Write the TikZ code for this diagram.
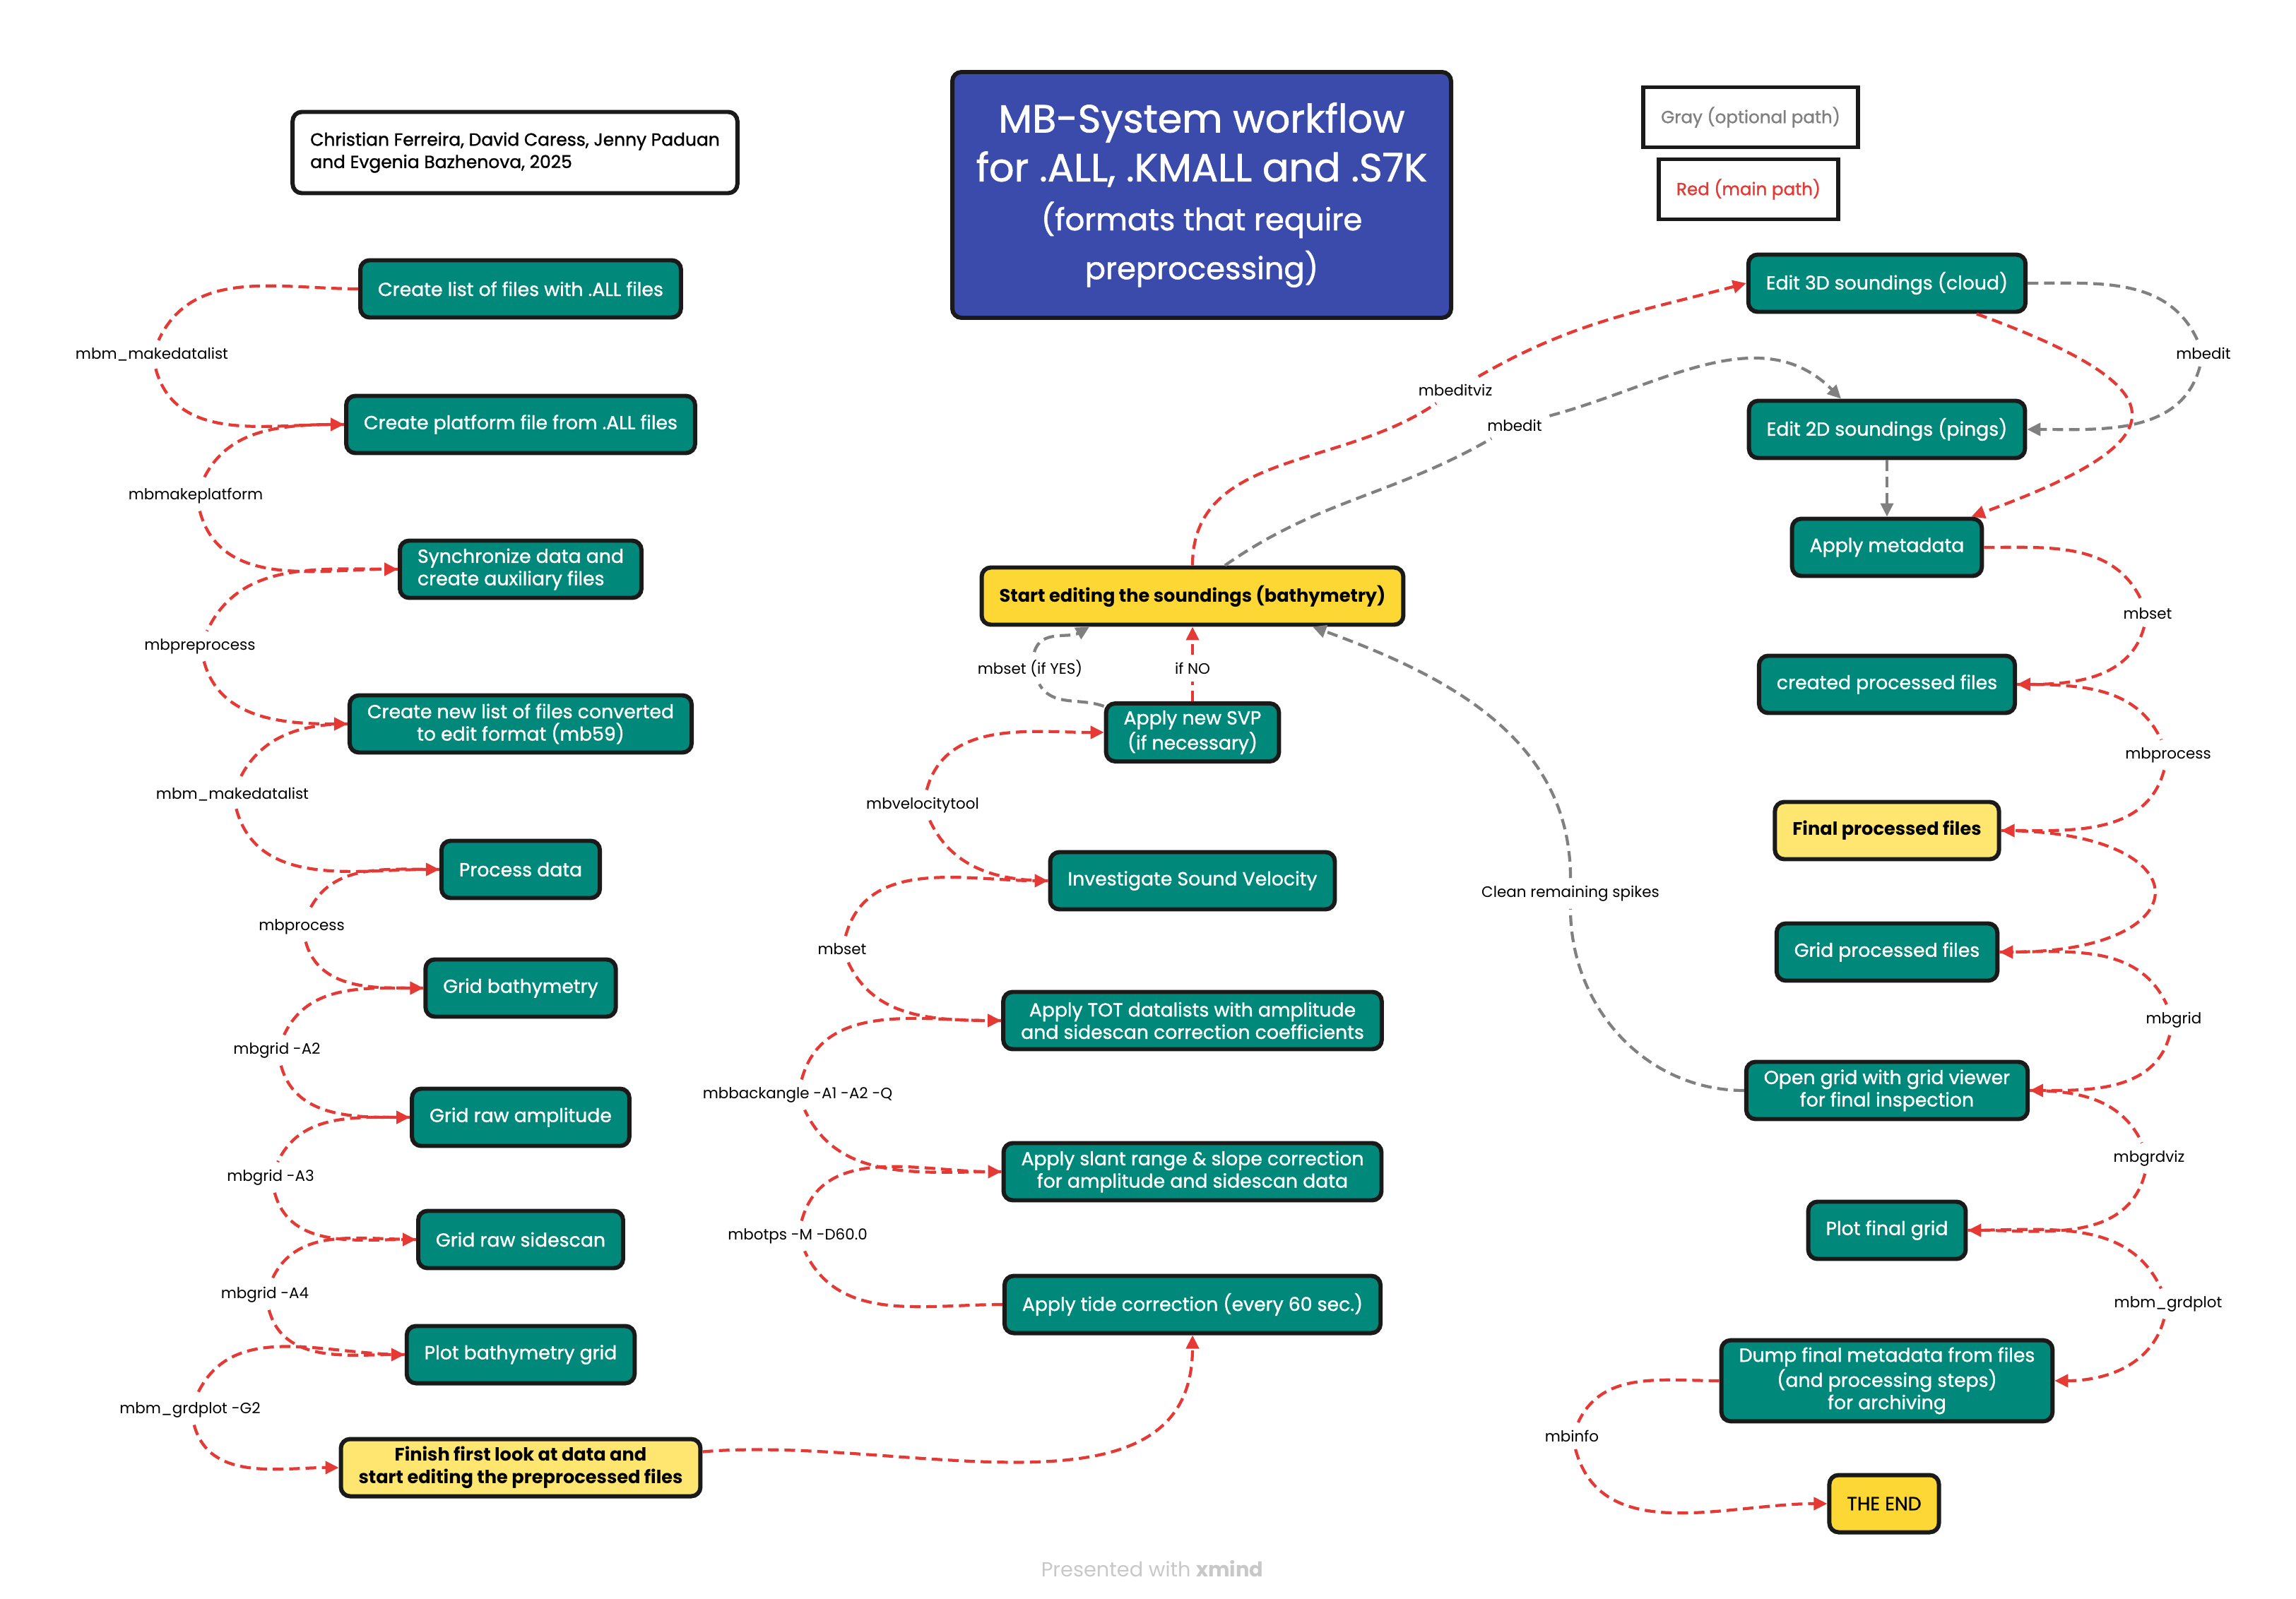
\documentclass[tikz,border=0pt]{standalone}
\usepackage{fontspec}
\setmainfont{Poppins}
\newfontfamily\medfont{Poppins}[FakeBold=1.2]
\usetikzlibrary{arrows.meta}

\definecolor{boxteal}{RGB}{0,137,123}
\definecolor{boxline}{RGB}{26,26,26}
\definecolor{titleblue}{RGB}{59,75,171}
\definecolor{hiyellow}{RGB}{253,216,53}
\definecolor{softyellow}{RGB}{255,230,112}
\definecolor{mainred}{RGB}{229,57,53}
\definecolor{optgray}{RGB}{128,128,128}
\definecolor{footgray}{RGB}{200,200,200}

\tikzset{
  box/.style={draw=boxline, line width=1.7pt, rounded corners=1.3mm, fill=boxteal,
    text=white, align=center, inner xsep=2.5mm, inner ysep=1mm, minimum height=8.1mm,
    font=\medfont\fontsize{7.6}{9}\selectfont},
  hibox/.style={box, fill=hiyellow, text=black, font=\fontsize{7.3}{9}\selectfont\bfseries},
  softbox/.style={hibox, fill=softyellow},
  legend/.style={draw=boxline, line width=1.5pt, fill=white, inner xsep=2.5mm,
    minimum height=8.5mm, font=\medfont\fontsize{7}{9}\selectfont},
  cmd/.style={fill=white, inner sep=1mm, font=\fontsize{6.1}{7.5}\selectfont},
  mainpath/.style={draw=mainred, line width=1.2pt, dash pattern=on 4.3pt off 2.3pt,
    -{Triangle[length=1.9mm,width=1.8mm]}},
  optpath/.style={mainpath, draw=optgray},
}

\begin{document}
\begin{tikzpicture}
  \useasboundingbox (0,0) rectangle (32.5,-22.64);

  % header
  \node[box, fill=white, text=black, align=left, minimum height=11.5mm,
    font=\medfont\fontsize{7.1}{9}\selectfont] (authors) at (7.29,-2.16)
    {Christian Ferreira, David Caress, Jenny Paduan\\and Evgenia Bazhenova, 2025};
  \node[box, fill=titleblue, minimum width=7.06cm, minimum height=3.48cm,
    font=\medfont\fontsize{15.8}{19.7}\selectfont] (title) at (17.01,-2.76)
    {MB-System workflow\\
     for .ALL, .KMALL and .S7K\\
     {\fontsize{12.3}{19.7}\selectfont (formats that require}\\
     {\fontsize{12.3}{19.7}\selectfont preprocessing)}};
  \node[legend, text=optgray] (leggray) at (24.78,-1.66) {Gray (optional path)};
  \node[legend, text=mainred] (legred) at (24.75,-2.68) {Red (main path)};

  % left column
  \node[box] (listall) at (7.37,-4.09) {Create list of files with .ALL files};
  \node[box] (platform) at (7.37,-6.01) {Create platform file from .ALL files};
  \node[box, align=left] (sync) at (7.37,-8.06) {Synchronize data and\\create auxiliary files};
  \node[box] (newlist) at (7.37,-10.25) {Create new list of files converted\\to edit format (mb59)};
  \node[box] (process) at (7.37,-12.31) {Process data};
  \node[box] (gridbathy) at (7.37,-13.99) {Grid bathymetry};
  \node[box] (gridamp) at (7.37,-15.82) {Grid raw amplitude};
  \node[box] (gridss) at (7.37,-17.55) {Grid raw sidescan};
  \node[box] (plotbathy) at (7.37,-19.18) {Plot bathymetry grid};
  \node[softbox] (finish) at (7.37,-20.78) {Finish first look at data and\\start editing the preprocessed files};

  \node[cmd] (lmk1) at (2.15,-5.02) {mbm\_makedatalist};
  \node[cmd] (lplat) at (2.77,-7.02) {mbmakeplatform};
  \node[cmd] (lpre) at (2.83,-9.15) {mbpreprocess};
  \node[cmd] (lmk2) at (3.29,-11.25) {mbm\_makedatalist};
  \node[cmd] (lproc) at (4.27,-13.12) {mbprocess};
  \node[cmd] (lgrida) at (3.92,-14.87) {mbgrid -A2};
  \node[cmd] (lgridb) at (3.83,-16.67) {mbgrid -A3};
  \node[cmd] (lgridc) at (3.75,-18.33) {mbgrid -A4};
  \node[cmd] (lplot) at (2.69,-19.96) {mbm\_grdplot -G2};

  % middle column
  \node[hibox] (startedit) at (16.88,-8.44) {Start editing the soundings (bathymetry)};
  \node[box] (svp) at (16.88,-10.37) {Apply new SVP\\(if necessary)};
  \node[box] (investigate) at (16.88,-12.47) {Investigate Sound Velocity};
  \node[box] (tot) at (16.88,-14.45) {Apply TOT datalists with amplitude\\and sidescan correction coefficients};
  \node[box] (slant) at (16.88,-16.59) {Apply slant range \& slope correction\\for amplitude and sidescan data};
  \node[box] (tide) at (16.88,-18.47) {Apply tide correction (every 60 sec.)};

  \node[cmd] (lotps) at (11.29,-17.50) {mbotps -M -D60.0};
  \node[cmd] (lback) at (11.29,-15.50) {mbbackangle -A1 -A2 -Q};
  \node[cmd] (lset) at (11.92,-13.44) {mbset};
  \node[cmd] (lvel) at (13.06,-11.40) {mbvelocitytool};
  \node[cmd] (lno) at (16.88,-9.46) {if NO};
  \node[cmd] (lyes) at (14.58,-9.46) {mbset (if YES)};
  \node[cmd] (lviz) at (20.60,-5.52) {mbeditviz};
  \node[cmd] (ledit) at (21.44,-6.02) {mbedit};
  \node[cmd] (lspikes) at (22.23,-12.65) {Clean remaining spikes};

  % right column
  \node[box] (edit3d) at (26.71,-4.01) {Edit 3D soundings (cloud)};
  \node[box] (edit2d) at (26.71,-6.08) {Edit 2D soundings (pings)};
  \node[box] (meta) at (26.71,-7.75) {Apply metadata};
  \node[box] (created) at (26.71,-9.69) {created processed files};
  \node[softbox] (final) at (26.71,-11.76) {Final processed files};
  \node[box] (gridproc) at (26.71,-13.48) {Grid processed files};
  \node[box] (opengrid) at (26.71,-15.44) {Open grid with grid viewer\\for final inspection};
  \node[box] (plotfinal) at (26.71,-17.42) {Plot final grid};
  \node[box] (dump) at (26.71,-19.55) {Dump final metadata from files\\(and processing steps)\\for archiving};
  \node[hibox, font=\medfont\fontsize{7.6}{9}\selectfont] (theend) at (26.67,-21.29) {THE END};

  \node[cmd] (redit) at (31.19,-5.00) {mbedit};
  \node[cmd] (rset) at (30.40,-8.69) {mbset};
  \node[cmd] (rproc) at (30.69,-10.69) {mbprocess};
  \node[cmd] (rgrid) at (30.77,-14.44) {mbgrid};
  \node[cmd] (rviz) at (30.42,-16.40) {mbgrdviz};
  \node[cmd] (rplot) at (30.69,-18.46) {mbm\_grdplot};
  \node[cmd] (rinfo) at (22.25,-20.33) {mbinfo};

  \node[text=footgray, font=\fontsize{8.2}{9}\selectfont] (footer) at (16.31,-22.21)
    {Presented with \textbf{xmind}};

  % connectors, left
  \draw[mainpath] (listall) to[out=180,in=65] (lmk1) to[out=-75,in=180] (platform);
  \draw[mainpath] (platform) to[out=180,in=65] (lplat) to[out=-75,in=180] (sync);
  \draw[mainpath] (sync) to[out=180,in=65] (lpre) to[out=-75,in=180] (newlist);
  \draw[mainpath] (newlist) to[out=180,in=65] (lmk2) to[out=-75,in=180] (process);
  \draw[mainpath] (process) to[out=180,in=65] (lproc) to[out=-75,in=180] (gridbathy);
  \draw[mainpath] (gridbathy) to[out=180,in=65] (lgrida) to[out=-75,in=180] (gridamp);
  \draw[mainpath] (gridamp) to[out=180,in=65] (lgridb) to[out=-75,in=180] (gridss);
  \draw[mainpath] (gridss) to[out=180,in=65] (lgridc) to[out=-75,in=180] (plotbathy);
  \draw[mainpath] (plotbathy) to[out=180,in=65] (lplot) to[out=-75,in=180] (finish);

  % connectors, middle
  \draw[mainpath] (finish) to[out=5,in=-90] (tide);
  \draw[mainpath] (tide) to[out=180,in=-65] (lotps) to[out=75,in=180] (slant);
  \draw[mainpath] (slant) to[out=180,in=-65] (lback) to[out=75,in=180] (tot);
  \draw[mainpath] (tot) to[out=180,in=-65] (lset) to[out=75,in=180] (investigate);
  \draw[mainpath] (investigate) to[out=180,in=-65] (lvel) to[out=75,in=180] (svp);
  \draw[mainpath] (svp) -- (lno) -- (startedit);
  \draw[optpath] ([yshift=3.7mm]svp.west) to[out=160,in=-60] (lyes)
    to[out=75,in=-150] ([xshift=-14.6mm]startedit.south);
  \draw[mainpath] (startedit) to[out=90,in=-145] (lviz) to[out=30,in=195] (edit3d.west);
  \draw[optpath] ([xshift=4.6mm]startedit.north) to[out=35,in=-150] (ledit)
    to[out=15,in=135] ([xshift=-6.5mm]edit2d.north);
  \draw[optpath] (opengrid) to[out=180,in=-90] (lspikes)
    to[out=90,in=-20] ([xshift=17mm]startedit.south);

  % connectors, right
  \draw[optpath] (edit3d) to[out=0,in=115] (redit) to[out=-105,in=0] (edit2d);
  \draw[mainpath] ([xshift=12.7mm]edit3d.south) to[out=-20,in=20,looseness=2.8] (meta.20);
  \draw[optpath] (edit2d) -- (meta);
  \draw[mainpath] (meta) to[out=0,in=115] (rset) to[out=-105,in=0] (created);
  \draw[mainpath] (created) to[out=0,in=115] (rproc) to[out=-105,in=0] (final);
  \draw[mainpath] (final) to[out=0,in=0,looseness=4.3] (gridproc);
  \draw[mainpath] (gridproc) to[out=0,in=115] (rgrid) to[out=-105,in=0] (opengrid);
  \draw[mainpath] (opengrid) to[out=0,in=115] (rviz) to[out=-105,in=0] (plotfinal);
  \draw[mainpath] (plotfinal) to[out=0,in=115] (rplot) to[out=-105,in=0] (dump);
  \draw[mainpath] (dump) to[out=180,in=65] (rinfo) to[out=-75,in=180] (theend);
\end{tikzpicture}
\end{document}
